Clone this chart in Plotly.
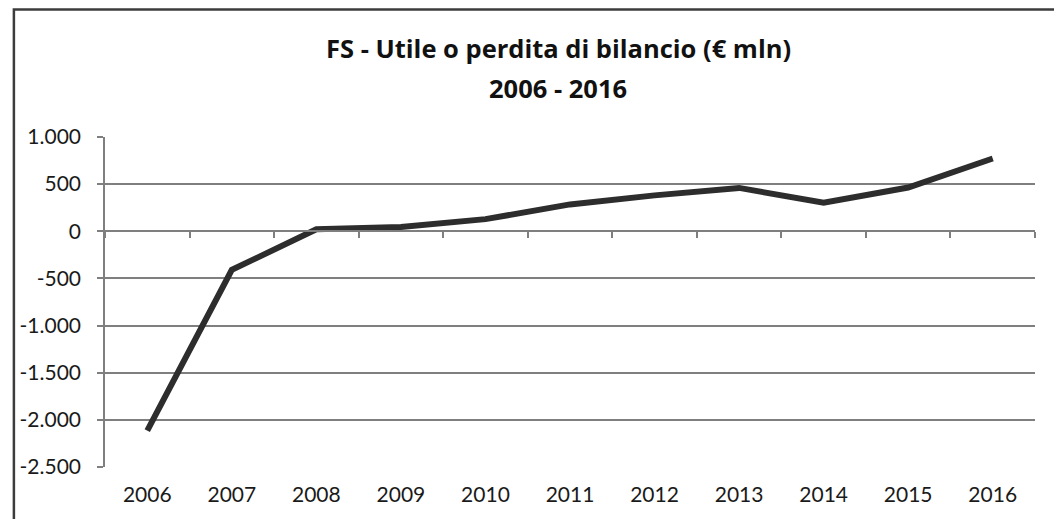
import plotly.graph_objects as go

years = ["2006", "2007", "2008", "2009", "2010", "2011", "2012", "2013", "2014", "2015", "2016"]
utile = [-2115, -409, 21, 45, 129, 285, 381, 460, 303, 464, 772]
y_tickvals = [1000, 500, 0, -500, -1000, -1500, -2000, -2500]
y_ticktext = ["1.000", "500", "0", "-500", "-1.000", "-1.500", "-2.000", "-2.500"]
title_line1 = "FS - Utile o perdita di bilancio (€ mln)"
title_line2 = "2006 - 2016"

OFF = 8  # page body margin in the browser
W, H = 1062 - OFF, 519 - OFF
# plot area in screenshot px
L, R, T, B = 101, 1035, 137, 467
pw, ph = R - L, B - T

def px_x(x):
    return (x - L) / pw

def px_y(y):
    return (B - y) / ph

FONT = "Lato"
TFONT = "Open Sans"
GRID = "#7f7f7f"

fig = go.Figure()
fig.add_trace(go.Scatter(x=years, y=utile, mode="lines",
                         line=dict(color="#2d2d2d", width=6), xaxis="x", yaxis="y",
                         showlegend=False, hoverinfo="x+y"))
# invisible helper trace on the zero-line axis (for tick marks at y=0)
fig.add_trace(go.Scatter(x=years, y=[0] * len(years), mode="lines",
                         line=dict(width=0, color="rgba(0,0,0,0)"), xaxis="x2", yaxis="y",
                         showlegend=False, hoverinfo="skip"))

ymin, ymax = -2500, 1000
zero_pos = (0 - ymin) / (ymax - ymin)

fig.update_layout(
    width=W, height=H,
    margin=dict(l=L - OFF, r=W - (R - OFF), t=T - OFF, b=H - (B - OFF)),
    paper_bgcolor="white", plot_bgcolor="white",
    font=dict(family=FONT, size=21, color="#1a1a1a"),
    xaxis=dict(type="category", categoryorder="array", categoryarray=years,
               range=[-0.5, len(years) - 0.5],
               showgrid=False, showline=False, zeroline=False, ticks="",
               tickfont=dict(size=21), ticklabelstandoff=13),
    xaxis2=dict(type="category", categoryorder="array", categoryarray=years,
                range=[-0.5, len(years) - 0.5], overlaying="x", anchor="free",
                position=zero_pos, side="bottom", showgrid=False, zeroline=False,
                showline=True, linecolor=GRID, linewidth=1.5,
                ticks="outside", tickson="boundaries", ticklen=6, tickwidth=1.5,
                tickcolor=GRID, showticklabels=False),
    yaxis=dict(range=[ymin, ymax], tickvals=y_tickvals, ticktext=y_ticktext,
               showgrid=True, gridcolor=GRID, gridwidth=1.5, zeroline=False,
               showline=True, linecolor=GRID, linewidth=1.5,
               ticks="outside", ticklen=6, tickwidth=1.5, tickcolor=GRID,
               tickfont=dict(size=21), ticklabelstandoff=12),
    shapes=[dict(type="rect", xref="paper", yref="paper",
                 x0=px_x(9.5), x1=px_x(1058.5), y0=px_y(530), y1=px_y(9.5),
                 line=dict(color="#3c3c3c", width=2.5), fillcolor="rgba(0,0,0,0)", layer="below")],
    annotations=[
        dict(text="<b>" + title_line1 + "</b>", xref="paper", yref="paper",
             x=px_x(556), y=px_y(48), xanchor="center", yanchor="middle",
             showarrow=False, font=dict(family=TFONT, size=25.5, color="#111111")),
        dict(text="<b>" + title_line2 + "</b>", xref="paper", yref="paper",
             x=px_x(556), y=px_y(88), xanchor="center", yanchor="middle",
             showarrow=False, font=dict(family=TFONT, size=25.5, color="#111111")),
    ],
)

fig.write_html("out.html")
